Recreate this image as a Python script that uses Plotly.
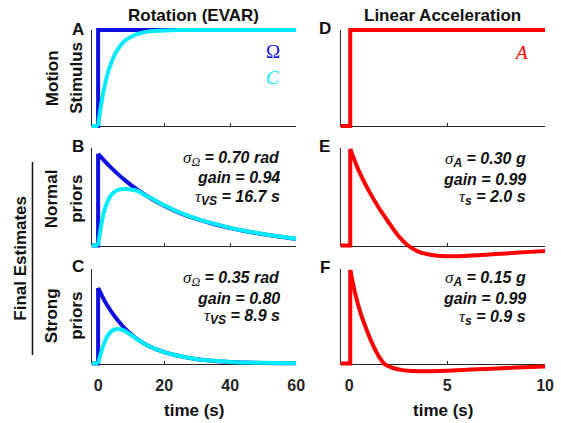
import plotly.graph_objects as go

W, H = 561, 423

# ---------------- data ----------------
# Rotation (EVAR), time in s
rot_step_t = [-2, 0, 0, 60]
rot_step_omega = [0, 0, 1, 1]
rot_base_t = [-2, 0]
rot_base_v = [0, 0]

stim_cup_t = [0, 0.5, 1, 1.5, 2, 3, 4, 5, 6, 8, 10, 12, 15, 20, 25, 30, 40, 60]
stim_cup_v = [0, 0.13, 0.24, 0.34, 0.42, 0.56, 0.66, 0.74, 0.80, 0.885, 0.93, 0.96, 0.983, 0.995, 0.999, 1.0, 1.0, 1.0]

normal_omega_t = [0, 2, 4, 6, 8, 10, 13, 16, 20, 25, 30, 35, 40, 45, 50, 55, 60]
normal_omega_v = [0.94, 0.865, 0.796, 0.732, 0.673, 0.62, 0.547, 0.483, 0.409, 0.33, 0.27, 0.22, 0.178, 0.144, 0.115, 0.09, 0.068]
normal_cup_t = [0, 1, 2, 3, 4, 5, 6, 8, 10, 12, 14, 16, 20, 25, 30, 35, 40, 45, 50, 55, 60]
normal_cup_v = [0, 0.22, 0.37, 0.46, 0.52, 0.55, 0.57, 0.58, 0.575, 0.56, 0.52, 0.487, 0.413, 0.334, 0.274, 0.224, 0.182, 0.147, 0.118, 0.092, 0.07]

strong_omega_t = [0, 2, 4, 6, 8, 10, 12, 15, 20, 25, 30, 35, 40, 50, 60]
strong_omega_v = [0.80, 0.66, 0.55, 0.455, 0.375, 0.31, 0.255, 0.19, 0.12, 0.075, 0.045, 0.027, 0.016, 0.006, 0.002]
strong_cup_t = [0, 1, 2, 3, 4, 5, 6, 7, 8, 10, 12, 15, 20, 25, 30, 35, 40, 50, 60]
strong_cup_v = [0, 0.13, 0.23, 0.30, 0.34, 0.36, 0.365, 0.36, 0.345, 0.302, 0.252, 0.19, 0.121, 0.076, 0.046, 0.028, 0.017, 0.007, 0.003]

# Linear acceleration, time in s
acc_step_t = [-0.45, 0.05, 0.05, 10]
acc_step_v = [0, 0, 1, 1]
acc_pre_t = [-0.45, 0.05, 0.05]
normal_acc_pre_v = [0, 0, 0.99]
strong_acc_pre_v = [0, 0, 0.99]

normal_acc_t = [0.05, 0.5, 1.0, 1.5, 2.0, 2.5, 3.0, 3.5, 4.0, 4.5, 5.0, 5.5, 6.0, 7.0, 8.0, 9.0, 10.0]
normal_acc_v = [0.99, 0.76, 0.56, 0.39, 0.24, 0.1, 0.0, -0.06, -0.09, -0.105, -0.11, -0.11, -0.106, -0.094, -0.081, -0.068, -0.056]
strong_acc_t = [0.05, 0.3, 0.6, 0.9, 1.2, 1.5, 1.8, 2.2, 2.7, 3.2, 3.8, 4.5, 5.5, 6.5, 7.5, 8.5, 10]
strong_acc_v = [0.99, 0.74, 0.52, 0.35, 0.2, 0.08, -0.005, -0.045, -0.07, -0.08, -0.083, -0.08, -0.072, -0.062, -0.052, -0.043, -0.032]

rot_ticks = [0, 20, 40, 60]
acc_ticks = [0, 5, 10]

# ---------------- styling ----------------
BLUE = "rgb(15,15,225)"
CYAN = "rgb(0,235,255)"
RED = "rgb(255,0,0)"
AX = "#262626"
SANS = "Liberation Sans"
SERIF = "Liberation Serif"
LW = 4


def px_x(p):
    return p / W


def px_y(p):
    return 1 - p / H


YMIN, YMAX = -0.15, 1.05
rows = [(126, 30), (245.5, 148), (363.5, 269)]
cols = [((93, 301), (-2, 60), rot_ticks), ((346, 554), (-0.45, 10), acc_ticks)]

fig = go.Figure()
layout = dict(width=W, height=H, margin=dict(l=0, r=0, t=0, b=0),
              paper_bgcolor="white", plot_bgcolor="white", showlegend=False)
shapes = []
names = {}
for r, (y0, y1) in enumerate(rows):
    u = y0 - y1
    bot = y0 - YMIN * u
    top = y1 - (YMAX - 1) * u
    for c, (xd, xr, tv) in enumerate(cols):
        k = r * 2 + c + 1
        xn = "x" if k == 1 else f"x{k}"
        yn = "y" if k == 1 else f"y{k}"
        names[(r, c)] = (xn, yn)
        layout["xaxis" if k == 1 else f"xaxis{k}"] = dict(
            domain=[px_x(xd[0]), px_x(xd[1])], range=list(xr), anchor="free",
            position=px_y(y0), showline=True, linecolor=AX, linewidth=1,
            ticks="inside", ticklen=3, tickwidth=1, tickcolor=AX, tickvals=tv,
            showticklabels=(r == 2), ticklabelstandoff=7,
            tickfont=dict(family=SANS, size=16, color=AX, weight="bold"),
            showgrid=False, zeroline=False, layer="below traces")
        layout["yaxis" if k == 1 else f"yaxis{k}"] = dict(
            domain=[px_y(bot), px_y(top)], range=[YMIN, YMAX], anchor=xn,
            showline=False, showticklabels=False, showgrid=False,
            zeroline=False, ticks="")
        shapes.append(dict(type="line", xref=f"{xn} domain", yref=yn,
                           x0=0, x1=0, y0=0, y1=1, layer="below",
                           line=dict(color=AX, width=1)))


def add(r, c, x, y, color, shape="linear"):
    xn, yn = names[(r, c)]
    fig.add_trace(go.Scatter(x=x, y=y, mode="lines", xaxis=xn, yaxis=yn,
                             line=dict(color=color, width=LW, shape=shape,
                                       smoothing=0.8 if shape == "spline" else None),
                             hoverinfo="skip"))


# A
add(0, 0, rot_step_t, rot_step_omega, BLUE)
add(0, 0, rot_base_t, rot_base_v, CYAN)
add(0, 0, stim_cup_t, stim_cup_v, CYAN, "spline")
# B
add(1, 0, [-2, 0, 0], [0, 0, normal_omega_v[0]], BLUE)
add(1, 0, normal_omega_t, normal_omega_v, BLUE, "spline")
add(1, 0, rot_base_t, rot_base_v, CYAN)
add(1, 0, normal_cup_t, normal_cup_v, CYAN, "spline")
# C
add(2, 0, [-2, 0, 0], [0, 0, strong_omega_v[0]], BLUE)
add(2, 0, strong_omega_t, strong_omega_v, BLUE, "spline")
add(2, 0, rot_base_t, rot_base_v, CYAN)
add(2, 0, strong_cup_t, strong_cup_v, CYAN, "spline")
# D
add(0, 1, acc_step_t, acc_step_v, RED)
# E
add(1, 1, acc_pre_t, normal_acc_pre_v, RED)
add(1, 1, normal_acc_t, normal_acc_v, RED, "spline")
# F
add(2, 1, acc_pre_t, strong_acc_pre_v, RED)
add(2, 1, strong_acc_t, strong_acc_v, RED, "spline")

# bracket line for "Final Estimates"
shapes.append(dict(type="line", xref="paper", yref="paper",
                   x0=px_x(33), x1=px_x(33), y0=px_y(162), y1=px_y(355),
                   line=dict(color="#111", width=1.5)))
layout["shapes"] = shapes

anns = []


def ann(text, x, y, size=17, color="#111", family=SANS, xanchor="center",
        angle=0, weight="bold", style="normal"):
    anns.append(dict(text=text, x=px_x(x), y=px_y(y), xref="paper", yref="paper",
                     xanchor=xanchor, yanchor="middle", showarrow=False,
                     textangle=angle,
                     font=dict(family=family, size=size, color=color,
                               weight=weight, style=style)))


ann("Rotation (EVAR)", 197, 15)
ann("Linear Acceleration", 450, 15)
for lab, x, y in [("A", 79, 30), ("B", 79, 147), ("C", 79, 266),
                  ("D", 330, 29), ("E", 330, 147), ("F", 330, 267)]:
    ann(lab, x, y)
ann("Motion", 53, 78, angle=-90)
ann("Stimulus", 77, 78, angle=-90)
ann("Normal", 52, 199, angle=-90)
ann("priors", 77, 199, angle=-90)
ann("Strong", 52, 316, angle=-90)
ann("priors", 77, 316, angle=-90)
ann("Final Estimates", 20, 258, angle=-90)
ann("time (s)", 197, 410)
ann("time (s)", 450, 410)

ann("Ω", 277, 52, size=19, color=BLUE, family=SERIF, weight="normal")
ann("<i>C</i>", 277, 77, size=19, color=CYAN, family=SERIF, weight="normal")
ann("<i>A</i>", 530, 53, size=19, color=RED, family=SERIF, weight="normal")


def ser(s, px):
    return (f"<span style='font-family:Liberation Serif;font-weight:normal;"
            f"font-size:{px}px'>{s}</span>")


def sans_sub(s):
    return f"<sub><span style='font-size:12px'>{s}</span></sub>"


def stats(sub_sym, l1, l2, tau_sub, l3, xr, ys):
    first = ser("σ", 17) + sub_sym + l1
    third = ser("τ", 17) + sans_sub(tau_sub) + l3
    ann(first, xr, ys[0], size=16, xanchor="right", style="italic")
    ann(l2, xr, ys[1], size=16, xanchor="right", style="italic")
    ann(third, xr, ys[2], size=16, xanchor="right", style="italic")


OMEGA_SUB = "<sub>" + ser("Ω", 12) + "</sub>"
stats(OMEGA_SUB, " = 0.70 rad", "gain = 0.94", "VS", " = 16.7 s", 287, [158, 178, 197])
stats(OMEGA_SUB, " = 0.35 rad", "gain = 0.80", "VS", " = 8.9 s", 287, [278, 298, 316])
stats(sans_sub("A"), " = 0.30 g", "gain = 0.99", "s", " = 2.0 s", 537, [159, 179, 197])
stats(sans_sub("A"), " = 0.15 g", "gain = 0.99", "s", " = 0.9 s", 537, [278, 298, 317])

layout["annotations"] = anns
fig.update_layout(**layout)
fig.write_html("out.html", config={"displayModeBar": False, "staticPlot": True},
               post_script="document.body.style.margin='0px';"
                           "document.body.style.overflow='hidden';")
